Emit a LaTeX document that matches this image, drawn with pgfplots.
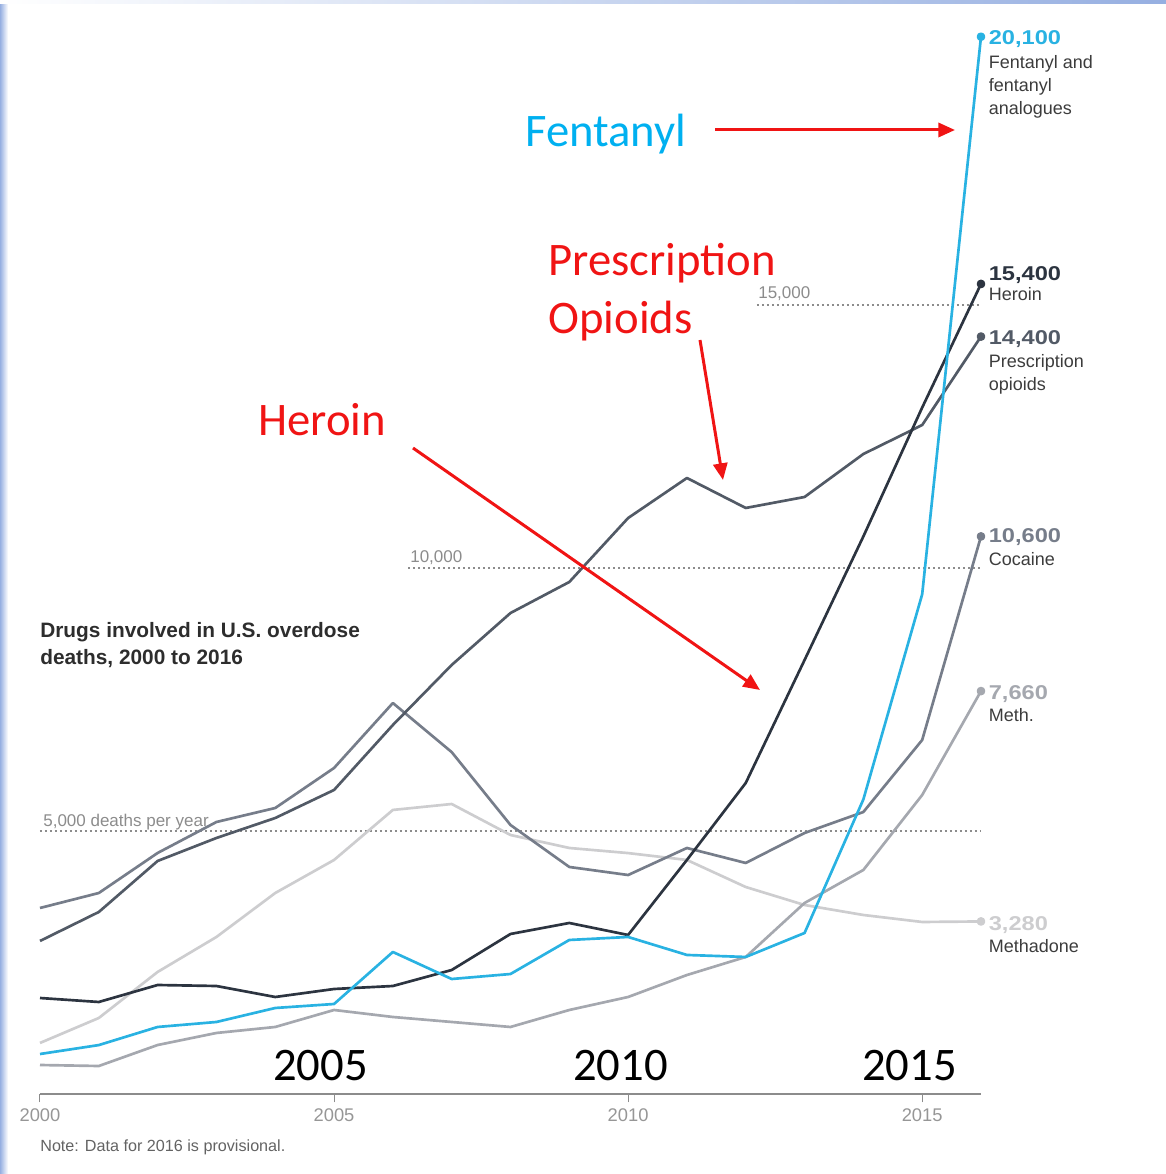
\documentclass[border=0pt]{standalone}
\usepackage{pgfplots}
\pgfplotsset{compat=1.18}
\usepackage{pgfplotstable}
\usepackage{fontspec}
\setmainfont{Liberation Sans}
\newfontfamily\valfont[FakeStretch=1.18]{Liberation Sans}
\newfontfamily\calfont{Carlito}
\usetikzlibrary{arrows.meta}

\definecolor{fentcol}{RGB}{41,178,226}
\definecolor{herocol}{RGB}{44,52,64}
\definecolor{rxcol}{RGB}{82,90,102}
\definecolor{cococol}{RGB}{118,125,138}
\definecolor{methcol}{RGB}{165,168,175}
\definecolor{madocol}{RGB}{205,205,207}
\definecolor{axisgray}{RGB}{140,140,140}
\definecolor{ticklab}{RGB}{150,150,150}
\definecolor{reflab}{RGB}{140,140,140}
\definecolor{namecol}{RGB}{60,60,60}
\definecolor{titlecol}{RGB}{45,45,45}
\definecolor{annred}{RGB}{240,20,20}
\definecolor{anncyan}{RGB}{0,176,240}
\definecolor{slideblue}{RGB}{150,175,225}

\pgfplotstableread{
year fent heroin rx cocaine meth methadone
2000 760 1825 2909 3536 551 970
2001 930 1749 3460 3821 532 1445
2002 1274 2072 4430 4582 931 2320
2003 1369 2053 4867 5171 1160 2985
2004 1635 1844 5247 5437 1274 3821
2005 1711 1996 5780 6198 1597 4449
2006 2700 2053 7015 7433 1464 5400
2007 2186 2357 8156 6500 1369 5513
2008 2281 3042 9144 5114 1274 4924
2009 2928 3251 9734 4316 1597 4677
2010 2985 3023 10950 4163 1844 4580
2011 2643 4450 11711 4677 2262 4449
2012 2605 5913 11141 4392 2605 3935
2013 3061 8250 11350 4962 3631 3593
2014 5600 10600 12167 5361 4259 3403
2015 9500 13050 12718 6730 5684 3270
2016 20100 15400 14400 10600 7660 3280
}\data

\begin{document}
\begin{tikzpicture}
\begin{axis}[
  at={(0,0)}, anchor=south west,
  scale only axis, width=564.6pt, height=631.2pt,
  xmin=2000, xmax=2016, ymin=0, ymax=20000,
  clip=false,
  axis x line*=bottom, axis y line=none,
  axis line style={-, draw=axisgray, line width=1.3pt},
  xtick={2000,2005,2010,2015},
  xticklabels={2000,2005,2010,2015},
  xtick align=outside,
  major tick length=5pt,
  tick style={draw=axisgray, line width=0.6pt},
  xticklabel style={font=\fontsize{11}{13}\selectfont, text=ticklab},
  ytick=\empty,
  every axis plot/.append style={line width=1.6pt, line join=round},
  refline/.style={draw=axisgray, line width=1.2pt, dash pattern=on 1.2pt off 1.8pt},
]
\addplot[refline] coordinates {(2000,5000) (2016,5000)};
\addplot[refline] coordinates {(2006.26,10000) (2016,10000)};
\addplot[refline] coordinates {(2012.19,15000) (2016,15000)};

\addplot[color=madocol, mark=*, mark indices={17}, mark size=1.8pt] table[x=year,y=methadone]{\data};
\addplot[color=methcol, mark=*, mark indices={17}, mark size=1.8pt] table[x=year,y=meth]{\data};
\addplot[color=cococol, mark=*, mark indices={17}, mark size=1.8pt] table[x=year,y=cocaine]{\data};
\addplot[color=rxcol, mark=*, mark indices={17}, mark size=1.8pt] table[x=year,y=rx]{\data};
\addplot[color=herocol, mark=*, mark indices={17}, mark size=1.8pt] table[x=year,y=heroin]{\data};
\addplot[color=fentcol, mark=*, mark indices={17}, mark size=1.8pt] table[x=year,y=fent]{\data};

% end labels
\tikzset{val/.style={anchor=west, xshift=4.5pt, inner sep=0pt, font=\valfont\bfseries\fontsize{12}{14}\selectfont},
         nm/.style={anchor=base west, xshift=4.5pt, inner sep=0pt, text=namecol, font=\fontsize{10.8}{13}\selectfont}}
\node[val, text=fentcol, yshift=-1.2pt] at (axis cs:2016,20100) {20,100};
\node[nm, yshift=-19.2pt] at (axis cs:2016,20100) {Fentanyl and};
\node[nm, yshift=-33pt] at (axis cs:2016,20100) {fentanyl};
\node[nm, yshift=-46.8pt] at (axis cs:2016,20100) {analogues};

\node[val, text=herocol, yshift=5.4pt] at (axis cs:2016,15400) {15,400};
\node[nm, yshift=-10.2pt] at (axis cs:2016,15400) {Heroin};

\node[val, text=rxcol, yshift=-1.8pt] at (axis cs:2016,14400) {14,400};
\node[nm, yshift=-18.6pt] at (axis cs:2016,14400) {Prescription};
\node[nm, yshift=-32.4pt] at (axis cs:2016,14400) {opioids};

\node[val, text=cococol, yshift=-0.6pt] at (axis cs:2016,10600) {10,600};
\node[nm, yshift=-17.4pt] at (axis cs:2016,10600) {Cocaine};

\node[val, text=methcol, yshift=-1.8pt] at (axis cs:2016,7660) {7,660};
\node[nm, yshift=-18pt] at (axis cs:2016,7660) {Meth.};

\node[val, text=madocol, yshift=-2.1pt] at (axis cs:2016,3280) {3,280};
\node[nm, yshift=-18.9pt] at (axis cs:2016,3280) {Methadone};
\end{axis}

\begin{scope}[shift={(-24pt,656.4pt)}, x=0.6pt, y=-0.6pt]
  % slide border
  \fill[left color=slideblue, right color=white] (0,0) rectangle (8,1174);
  \fill[left color=white, right color=slideblue] (0,0) rectangle (1166,4);
  % title
  \node[anchor=base west, inner sep=0pt, text=titlecol, font=\bfseries\fontsize{12.5}{14}\selectfont] at (40,638) {Drugs involved in U.S. overdose};
  \node[anchor=base west, inner sep=0pt, text=titlecol, font=\bfseries\fontsize{12.5}{14}\selectfont] at (40,665) {deaths, 2000 to 2016};
  % reference line labels
  \node[anchor=base west, inner sep=0pt, text=reflab, font=\fontsize{10.2}{12}\selectfont] at (43,827) {5,000 deaths per year};
  \node[anchor=base west, inner sep=0pt, text=reflab, font=\fontsize{10.2}{12}\selectfont] at (410,563) {10,000};
  \node[anchor=base west, inner sep=0pt, text=reflab, font=\fontsize{10.2}{12}\selectfont] at (758,299) {15,000};
  % note
  \node[anchor=base west, inner sep=0pt, text=namecol!80, font=\fontsize{9.7}{12}\selectfont] at (40,1151) {Note: Data for 2016 is provisional.};
  % slide annotations
  \node[anchor=base west, inner sep=0pt, text=anncyan, font=\calfont\fontsize{28}{32}\selectfont] at (525,147) {Fentanyl};
  \node[anchor=base west, inner sep=0pt, text=annred, font=\calfont\fontsize{28}{32}\selectfont] at (548,276) {Prescription};
  \node[anchor=base west, inner sep=0pt, text=annred, font=\calfont\fontsize{28}{32}\selectfont] at (548,334) {Opioids};
  \node[anchor=base west, inner sep=0pt, text=annred, font=\calfont\fontsize{28}{32}\selectfont] at (258,436) {Heroin};
  \node[anchor=base west, inner sep=0pt, text=black, font=\calfont\fontsize{28}{32}\selectfont] at (273,1080) {2005};
  \node[anchor=base west, inner sep=0pt, text=black, font=\calfont\fontsize{28}{32}\selectfont] at (573,1080) {2010};
  \node[anchor=base west, inner sep=0pt, text=black, font=\calfont\fontsize{28}{32}\selectfont] at (862,1080) {2015};
  \tikzset{redarrow/.style={draw=annred, line width=1.8pt, -{Triangle[length=10pt,width=8.5pt]}}}
  \draw[redarrow] (715,130) -- (955,130);
  \draw[redarrow] (700,340) -- (723,480);
  \draw[redarrow] (413,448) -- (760,690);
  \pgfresetboundingbox
  \path[use as bounding box] (0,0) rectangle (1166,1174);
\end{scope}
\end{tikzpicture}
\end{document}
